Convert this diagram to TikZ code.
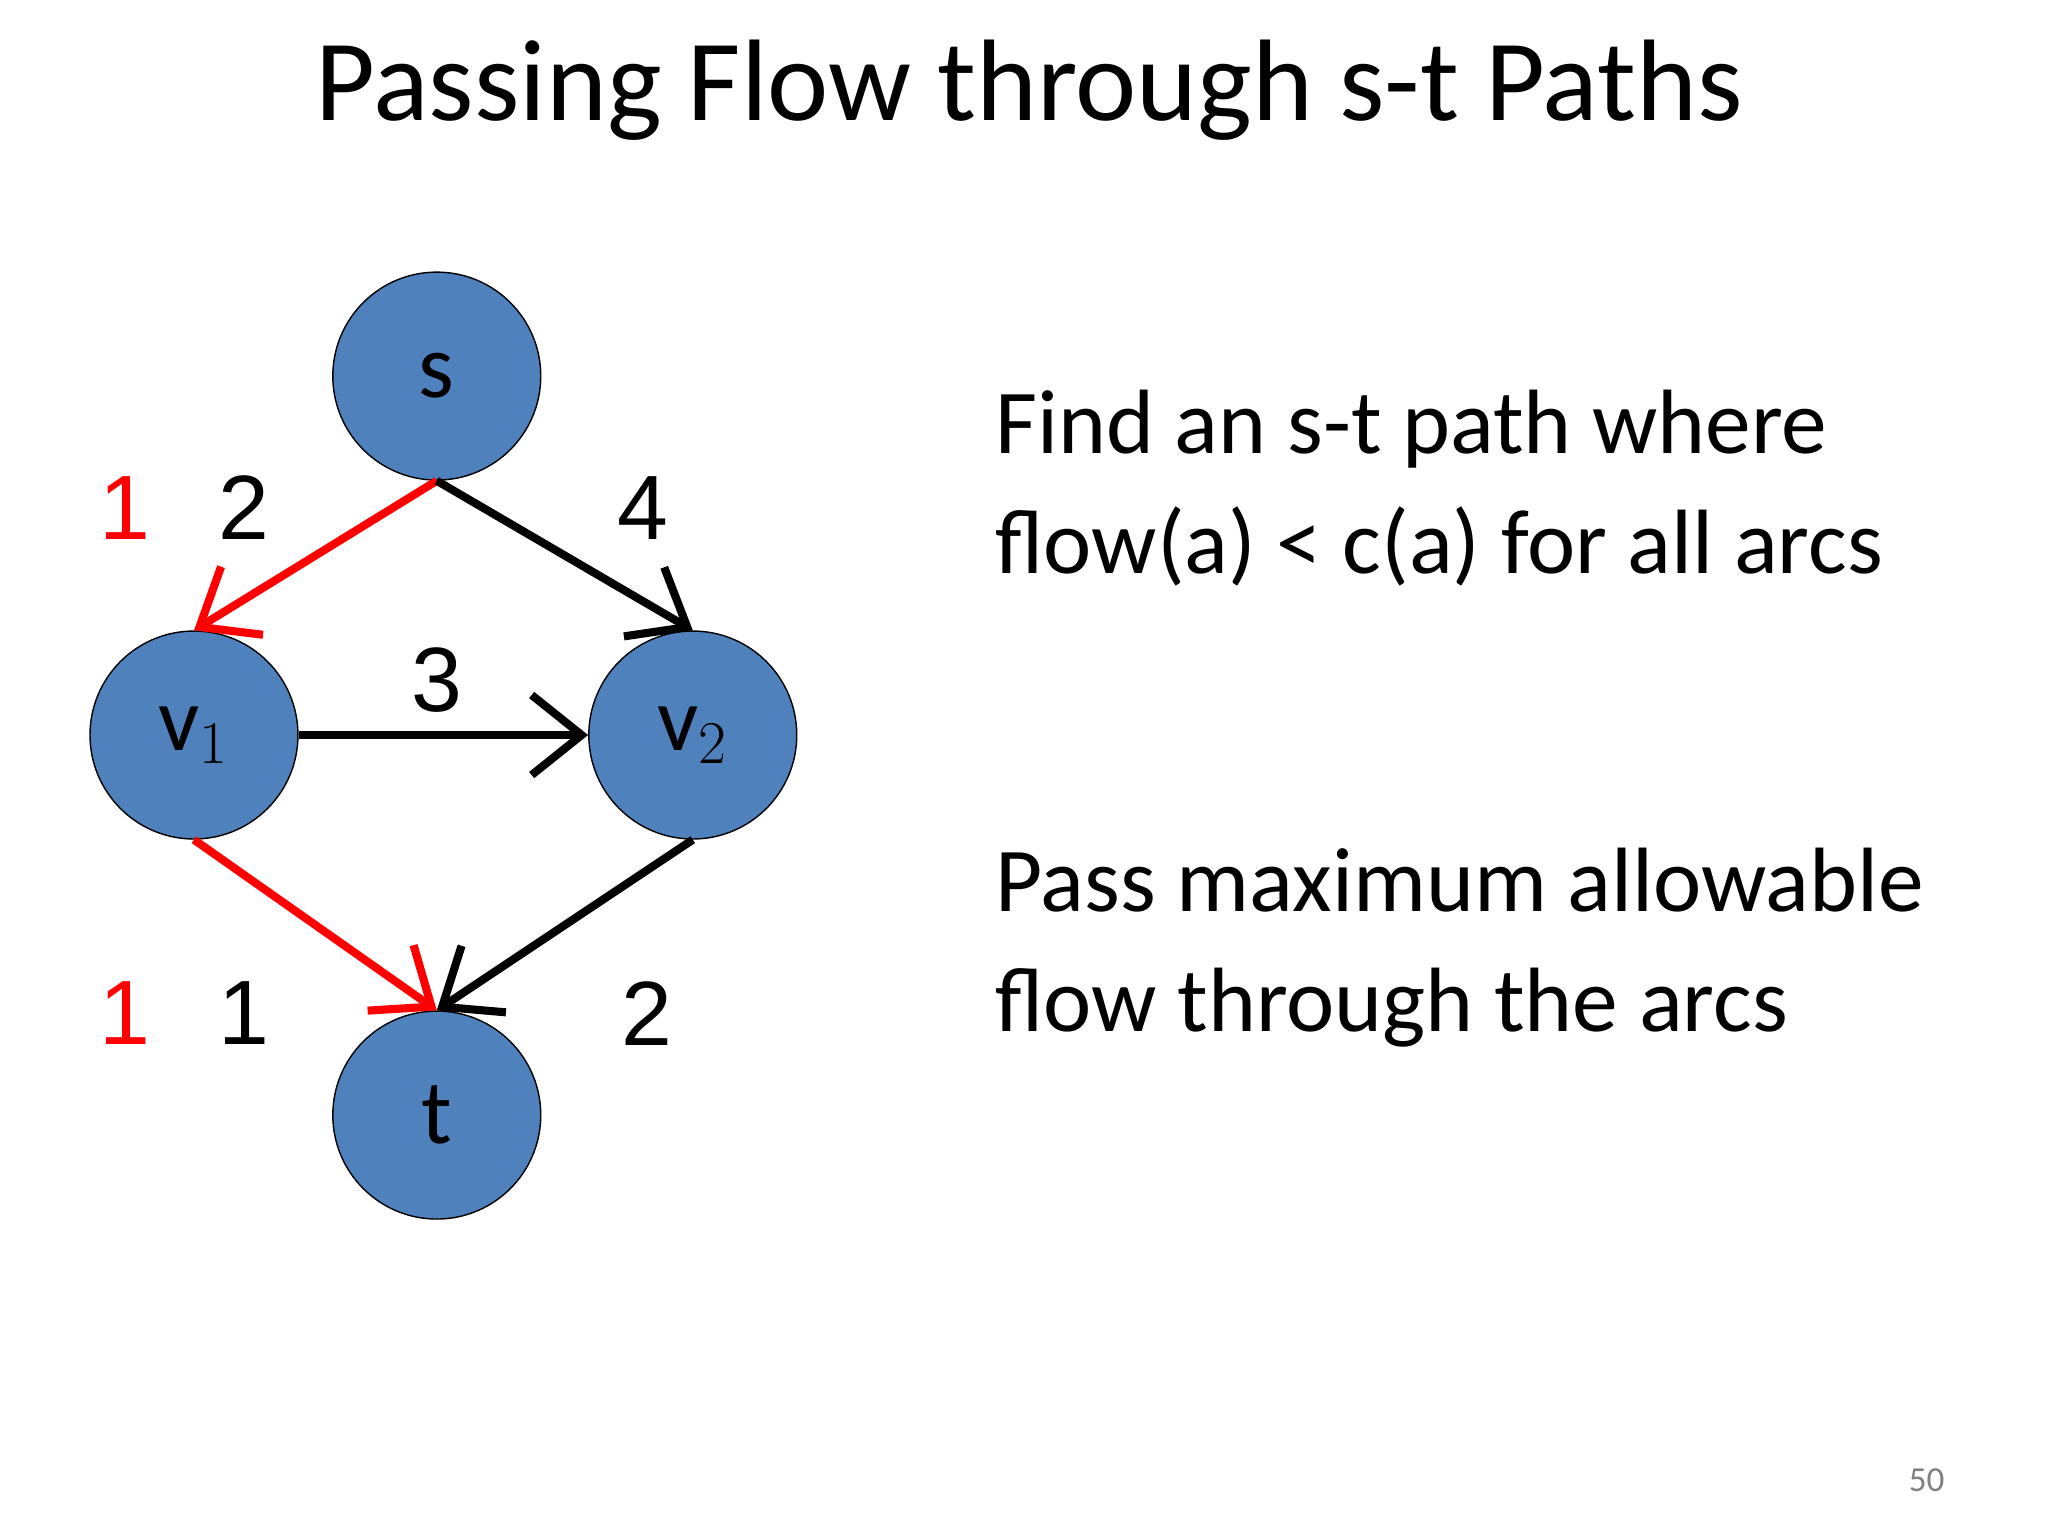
\documentclass[tikz,border=0pt]{standalone}
\usepackage{fontspec}
\setmainfont{Carlito}
\newfontfamily\numfont{Liberation Sans}
\usetikzlibrary{arrows.meta}
\definecolor{nodeblue}{RGB}{79,129,189}
\tikzstyle{vertex} = [circle, draw=black, fill=nodeblue, minimum size=2.08cm,
    inner sep=0pt, font=\fontsize{26}{30}\selectfont]
\tikzstyle{arc} = [line width=2.3pt, -{Straight Barb[length=5mm,width=8mm,line width=2.3pt]}]
\tikzstyle{weight} = [font=\numfont\fontsize{26}{30}\selectfont]
\tikzstyle{body} = [anchor=west, align=left, font=\fontsize{26}{34}\selectfont]

\begin{document}
\begin{tikzpicture}[x=0.0132cm, y=-0.0132cm]
        \useasboundingbox (0,0) rectangle (1552,1164);
        \node (title) at (780,68) {\fontsize{33}{40}\selectfont Passing Flow through s-t Paths};
        % graph
        \node (s) [vertex] at (331,285) {s};
        \node (v1) [vertex] at (147,557) {v$_1$};
        \node (v2) [vertex] at (525,557) {v$_2$};
        \node (t) [vertex] at (331,845) {t};
        \draw [arc, red] (s.south) -- (v1.north);
        \draw [arc] (s.south) -- (v2.north);
        \draw [arc] (v1.east) -- (v2.west);
        \draw [arc, red] (v1.south) -- (t.north);
        \draw [arc] (v2.south) -- (t.north);
        % capacities and flows
        \node (f1) [weight, red] at (95,385) {1};
        \node (c1) [weight] at (185,385) {2};
        \node (c2) [weight] at (487,385) {4};
        \node (c3) [weight] at (331,515) {3};
        \node (f4) [weight, red] at (95,768) {1};
        \node (c4) [weight] at (185,768) {1};
        \node (c5) [weight] at (490,768) {2};
        % text
        \node (find) [body] at (745,370) {Find an s-t path where\\flow(a) < c(a) for all arcs};
        \node (pass) [body] at (745,718) {Pass maximum allowable\\flow through the arcs};
        \node (page) [text=gray, font=\fontsize{10}{12}\selectfont] at (1460,1122) {50};
    \end{tikzpicture}
\end{document}
